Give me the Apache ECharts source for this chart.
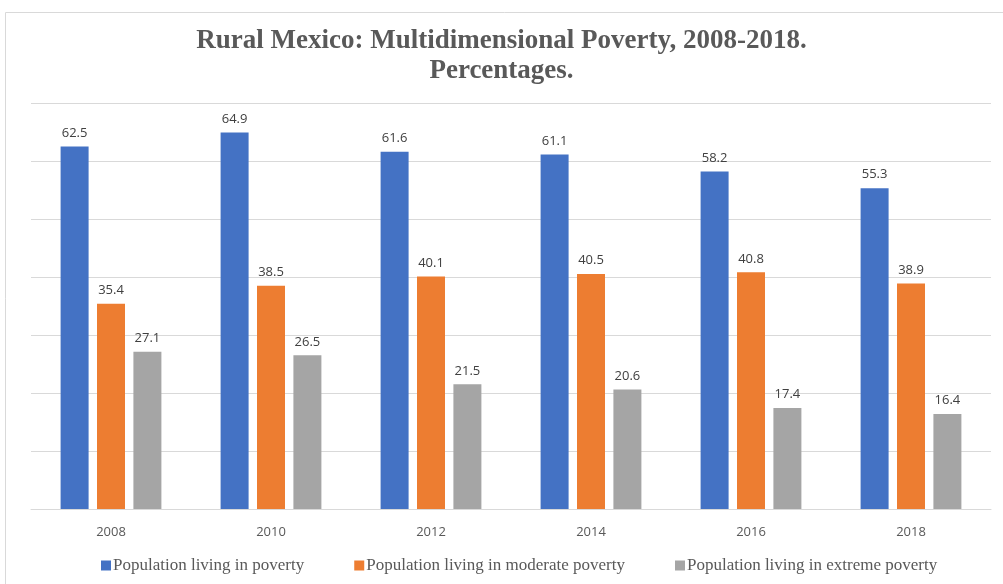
<!DOCTYPE html>
<html>
<head>
<meta charset="utf-8">
<script src="https://cdn.jsdelivr.net/npm/echarts@6/dist/echarts.min.js"></script>
<style>
  html, body { margin: 0; padding: 0; background: #fff; }
  #chart { width: 1003px; height: 584px; }
</style>
</head>
<body>
<div id="chart"></div>
<script>
const years = ["2008", "2010", "2012", "2014", "2016", "2018"];
const poverty = [62.5, 64.9, 61.6, 61.1, 58.2, 55.3];
const moderate = [35.4, 38.5, 40.1, 40.5, 40.8, 38.9];
const extreme = [27.1, 26.5, 21.5, 20.6, 17.4, 16.4];
const seriesNames = [
  "Population living in poverty",
  "Population living in moderate poverty",
  "Population living in extreme poverty",
];
const colors = ["#4472c4", "#ed7d31", "#a5a5a5"];

const chart = echarts.init(document.getElementById("chart"));

const labelStyle = {
  show: true,
  position: "top",
  distance: 7,
  color: "#404040",
  fontSize: 13,
  fontFamily: "Open Sans, Liberation Sans, sans-serif",
};

function bar(name, data, color) {
  return {
    name: name,
    type: "bar",
    data: data,
    barWidth: 28,
    barGap: "30%",
    itemStyle: { color: color },
    label: labelStyle,
    emphasis: { disabled: true },
  };
}

chart.setOption({
  animation: false,
  color: colors,
  graphic: [
    {
      type: "rect",
      shape: { x: 5.5, y: 12.5, width: 1020, height: 600 },
      style: { fill: "none", stroke: "#d9d9d9", lineWidth: 1 },
      silent: true,
    },
  ],
  title: {
    text: "Rural Mexico: Multidimensional Poverty, 2008-2018.\nPercentages.",
    left: "center",
    top: 21,
    textStyle: {
      fontFamily: "Liberation Serif, Times New Roman, serif",
      fontWeight: "bold",
      fontSize: 27,
      lineHeight: 30,
      color: "#595959",
    },
  },
  legend: {
    bottom: 5,
    left: 96,
    itemWidth: 10,
    itemHeight: 10,
    itemGap: 50,
    icon: "rect",
    textStyle: {
      fontFamily: "Liberation Serif, Times New Roman, serif",
      fontSize: 17,
      color: "#595959",
      padding: [0, 0, 0, -3],
    },
    data: seriesNames,
  },
  grid: {
    left: 31,
    right: 12,
    top: 103,
    bottom: 75,
  },
  xAxis: {
    type: "category",
    data: years,
    axisTick: { show: false },
    axisLine: { lineStyle: { color: "#d9d9d9" } },
    axisLabel: {
      color: "#595959",
      fontSize: 13,
      margin: 17,
      fontFamily: "Open Sans, Liberation Sans, sans-serif",
    },
  },
  yAxis: {
    type: "value",
    min: 0,
    max: 70,
    interval: 10,
    axisLabel: { show: false },
    axisLine: { show: false },
    axisTick: { show: false },
    splitLine: { lineStyle: { color: "#d9d9d9" } },
  },
  series: [
    bar(seriesNames[0], poverty, colors[0]),
    bar(seriesNames[1], moderate, colors[1]),
    bar(seriesNames[2], extreme, colors[2]),
  ],
});
</script>
</body>
</html>
